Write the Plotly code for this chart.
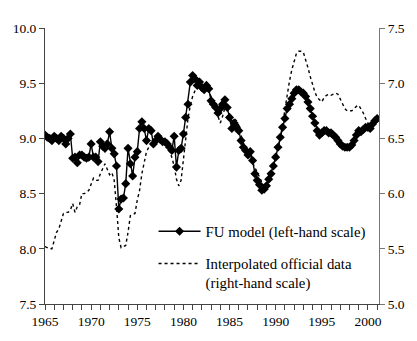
import plotly.graph_objects as go

# Quarterly observations, 1965Q1 onwards
fu_model = [
    9.03, 9.01, 9.00, 8.98, 9.02, 9.00, 8.98, 9.02, 9.00, 8.95, 9.00, 9.04,
    8.82, 8.83, 8.78, 8.85, 8.85, 8.83, 8.82, 8.83, 8.95, 8.83, 8.83, 8.79,
    8.97, 8.93, 8.91, 8.95, 9.06, 8.91, 8.86, 8.75, 8.36, 8.45, 8.46, 8.59,
    8.91, 8.77, 8.66, 8.83, 8.88, 9.09, 9.15, 9.09, 8.98, 9.09, 9.07, 8.95,
    8.98, 9.02, 8.99, 8.97, 8.97, 8.95, 8.92, 8.89, 9.02, 8.74, 8.89, 8.91,
    9.04, 9.19, 9.31, 9.51, 9.57, 9.54, 9.48, 9.51, 9.46, 9.44, 9.48, 9.45,
    9.34, 9.31, 9.28, 9.23, 9.27, 9.31, 9.35, 9.28, 9.19, 9.09, 9.14, 9.10,
    9.07, 8.98, 8.92, 8.89, 8.85, 8.88, 8.80, 8.68, 8.62, 8.58, 8.53, 8.54,
    8.57, 8.63, 8.68, 8.75, 8.83, 8.92, 9.01, 9.10, 9.18, 9.27, 9.31, 9.36,
    9.41, 9.44, 9.44, 9.42, 9.41, 9.38, 9.33, 9.27, 9.20, 9.14, 9.07, 9.03,
    9.05, 9.07, 9.07, 9.05, 9.05, 9.03, 9.01, 8.98, 8.95, 8.93, 8.92, 8.92,
    8.92, 8.94, 8.98, 9.03, 9.07, 9.06, 9.08, 9.10, 9.10, 9.09, 9.13, 9.16,
    9.18,
]

official = [
    5.52, 5.51, 5.50, 5.50, 5.57, 5.65, 5.68, 5.74, 5.82, 5.83, 5.83, 5.85,
    5.91, 5.83, 5.88, 5.90, 6.00, 6.00, 6.01, 6.03, 6.09, 6.14, 6.12, 6.12,
    6.18, 6.23, 6.27, 6.22, 6.17, 6.19, 6.12, 5.88, 5.60, 5.51, 5.52, 5.53,
    5.65, 5.80, 5.81, 5.82, 5.94, 6.03, 6.18, 6.30, 6.38, 6.42, 6.45, 6.46,
    6.47, 6.48, 6.47, 6.46, 6.45, 6.44, 6.40, 6.33, 6.25, 6.13, 6.07, 6.12,
    6.32, 6.50, 6.68, 6.80, 6.88, 6.93, 6.96, 6.98, 6.97, 6.95, 6.94, 6.92,
    6.88, 6.82, 6.76, 6.70, 6.64, 6.70, 6.78, 6.77, 6.70, 6.66, 6.68, 6.66,
    6.62, 6.53, 6.46, 6.42, 6.38, 6.33, 6.28, 6.24, 6.20, 6.15, 6.10, 6.06,
    6.07, 6.13, 6.20, 6.26, 6.32, 6.40, 6.50, 6.62, 6.76, 6.90, 7.02, 7.12,
    7.20, 7.27, 7.29, 7.29, 7.28, 7.22, 7.14, 7.06, 6.98, 6.92, 6.87, 6.85,
    6.83, 6.87, 6.89, 6.90, 6.89, 6.90, 6.91, 6.90, 6.86, 6.81, 6.77, 6.75,
    6.75, 6.75, 6.77, 6.79, 6.80, 6.77, 6.73, 6.68, 6.64, 6.60, 6.56,
]

start_year = 1965
quarters_fu = [start_year + q / 4 for q in range(len(fu_model))]
quarters_off = [start_year + q / 4 for q in range(len(official))]

x_tick_vals = list(range(1965, 2002))
x_tick_text = [str(y) if y % 5 == 0 else "" for y in x_tick_vals]
left_ticks = [7.5, 8.0, 8.5, 9.0, 9.5, 10.0]
right_ticks = [5.0, 5.5, 6.0, 6.5, 7.0, 7.5]

FONT = "Liberation Serif, Times New Roman, serif"
AXC = "#444444"
AXC2 = "#777777"

fig = go.Figure()
fig.add_trace(go.Scatter(
    x=quarters_fu, y=fu_model, mode="lines+markers",
    name="FU model (left-hand scale)",
    line=dict(color="black", width=1.4),
    marker=dict(symbol="diamond", size=7, color="black"),
    legendgroup="a",
))
fig.add_trace(go.Scatter(
    x=quarters_off, y=official, mode="lines", yaxis="y2",
    name="Interpolated official data<br>(right-hand scale)",
    line=dict(color="black", width=1.4, dash="dot"),
    legendgroup="b",
))

fig.update_layout(
    width=417, height=341,
    margin=dict(l=45, r=34, t=28, b=37),
    paper_bgcolor="white", plot_bgcolor="white",
    font=dict(family=FONT, size=13, color="black"),
    showlegend=True,
    legend=dict(x=0.325, y=0.322, xanchor="left", yanchor="top",
                bgcolor="rgba(0,0,0,0)", font=dict(size=14.8, family=FONT),
                tracegroupgap=10, valign="top", itemwidth=42),
    xaxis=dict(range=[1965, 2001.2], tickvals=x_tick_vals, ticktext=x_tick_text,
               ticks="outside", ticklen=5, tickcolor=AXC, showline=True,
               linecolor=AXC, linewidth=1, showgrid=False, zeroline=False,
               tickfont=dict(size=13.5, family=FONT)),
    yaxis=dict(range=[7.5, 10.0], tickvals=left_ticks, tickformat=".1f",
               ticks="outside", ticklen=5, tickcolor=AXC, showline=True,
               linecolor=AXC, linewidth=1, showgrid=False, zeroline=False,
               tickfont=dict(size=13.5, family=FONT)),
    yaxis2=dict(range=[5.0, 7.5], tickvals=right_ticks, tickformat=".1f",
                overlaying="y", side="right", anchor="x",
                ticks="outside", ticklen=5, tickcolor=AXC2, showline=True,
                linecolor=AXC2, linewidth=1, showgrid=False, zeroline=False,
                tickfont=dict(size=13.5, family=FONT)),
)

fig.write_html("out.html")
